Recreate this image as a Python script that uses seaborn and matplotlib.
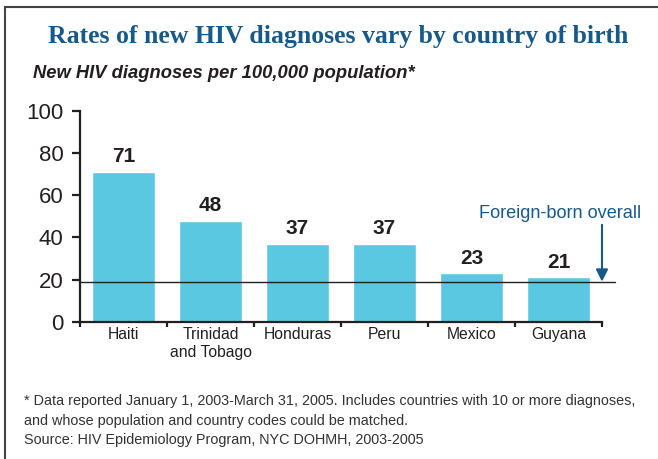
import matplotlib.pyplot as plt
import matplotlib.patches as mpatches
import pandas as pd
import seaborn as sns

countries = ["Haiti", "Trinidad\nand Tobago", "Honduras", "Peru", "Mexico", "Guyana"]
rates = [71, 48, 37, 37, 23, 21]
foreign_born_overall = 19
yticks = [0, 20, 40, 60, 80, 100]

df = pd.DataFrame({"country": countries, "rate": rates})

sns.set_style("ticks")
plt.rcParams["font.family"] = ["Liberation Sans", "DejaVu Sans"]

text_col = "#231f20"
bar_col = "#5bc8e2"
blue = "#17598a"

fig = plt.figure(figsize=(6.58, 4.59), dpi=100)
ax = fig.add_axes([80 / 658, 1 - 321.7 / 459, 522 / 658, 210.7 / 459])

sns.barplot(data=df, x="country", y="rate", color=bar_col, width=0.72,
            saturation=1, ax=ax)

for i, v in enumerate(rates):
    ax.annotate(str(v), (i, v), xytext=(0, 7), textcoords="offset points",
                ha="center", va="baseline", fontsize=15, fontweight="bold",
                color=text_col)

# foreign-born reference line + arrow
ax.plot([-0.5, 5.65], [foreign_born_overall] * 2, color=text_col, lw=1,
        clip_on=False, zorder=3)
ax.annotate("", xy=(5.5, foreign_born_overall), xytext=(5.5, 46),
            arrowprops=dict(arrowstyle="-|>", color=blue, lw=1.5,
                            mutation_scale=18, shrinkA=0, shrinkB=0),
            annotation_clip=False)
ax.text(5.02, 51.3, "Foreign-born overall", ha="center", va="center",
        fontsize=13.1, color=blue)

ax.set_xlim(-0.5, 5.5)
ax.set_ylim(0, 100)
ax.set_yticks(yticks)
ax.set_xlabel("")
ax.set_ylabel("")
sns.despine(ax=ax)
for s in ["left", "bottom"]:
    ax.spines[s].set_linewidth(1.6)
    ax.spines[s].set_color(text_col)

ax.tick_params(axis="y", length=6, width=1.6, color=text_col, labelsize=16,
               labelcolor=text_col, pad=6)
ax.tick_params(axis="x", which="major", length=0, labelsize=11.3,
               labelcolor=text_col, pad=4)
ax.set_xticks([i - 0.5 for i in range(len(countries) + 1)], minor=True)
ax.tick_params(axis="x", which="minor", length=3.5, width=1.6, color=text_col)

fig.text(338 / 658, 1 - 36 / 459, "Rates of new HIV diagnoses vary by country of birth",
         ha="center", va="center", fontsize=18.5, fontweight="bold", color=blue,
         family="Liberation Serif")
fig.text(33 / 658, 1 - 74 / 459, "New HIV diagnoses per 100,000 population*",
         ha="left", va="center", fontsize=13.2, fontweight="bold", style="italic",
         color=text_col)

notes = ["* Data reported January 1, 2003-March 31, 2005. Includes countries with 10 or more diagnoses,",
         "and whose population and country codes could be matched.",
         "Source: HIV Epidemiology Program, NYC DOHMH, 2003-2005"]
for k, line in enumerate(notes):
    fig.text(24 / 658, 1 - (401 + 19.5 * k) / 459, line, ha="left", va="center",
             fontsize=10.4, color="#333333")

fig.patches.append(mpatches.Rectangle((5 / 658, -0.1), 1.0, 1.1 - 7 / 459,
                                      transform=fig.transFigure, fill=False,
                                      lw=1.5, edgecolor="#444444"))

fig.savefig("out.png", dpi=100)
